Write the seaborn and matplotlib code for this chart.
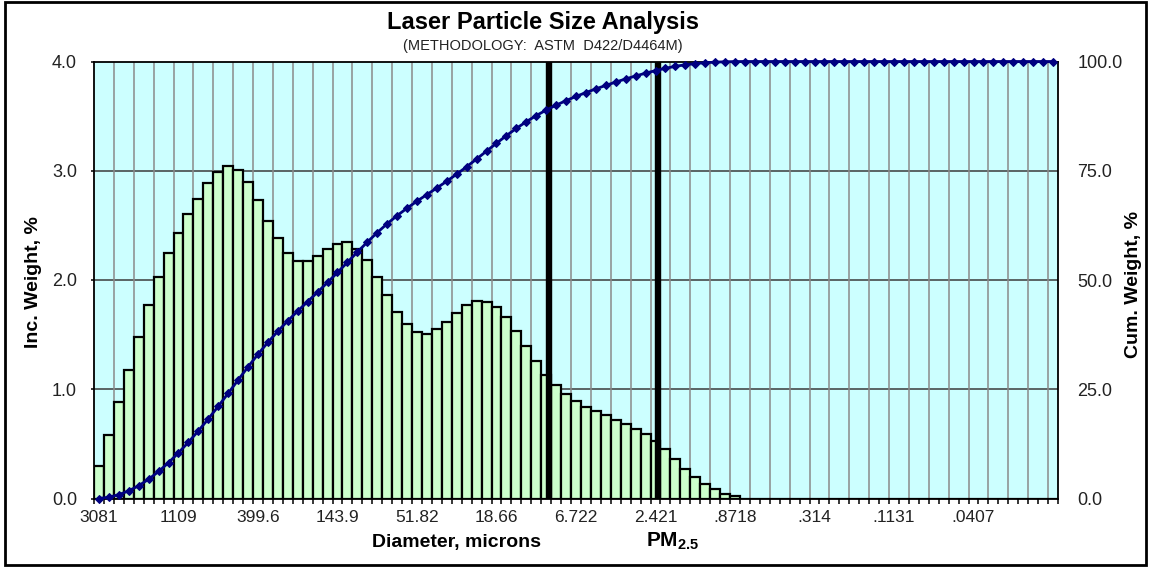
import numpy as np
import pandas as pd
import seaborn as sns
import matplotlib.pyplot as plt
from matplotlib.patches import Rectangle

# Incremental weight (%) per size class, coarsest (3081 µm) to finest
inc_weight = [
    0.30, 0.58, 0.88, 1.18, 1.48, 1.77, 2.03, 2.25, 2.43, 2.60,
    2.74, 2.89, 2.99, 3.04, 3.01, 2.90, 2.73, 2.54, 2.38, 2.25,
    2.17, 2.17, 2.22, 2.28, 2.33, 2.35, 2.28, 2.18, 2.03, 1.86,
    1.71, 1.60, 1.52, 1.51, 1.55, 1.62, 1.70, 1.77, 1.81, 1.80,
    1.75, 1.66, 1.53, 1.40, 1.26, 1.13, 1.04, 0.96, 0.89, 0.84,
    0.80, 0.76, 0.72, 0.68, 0.64, 0.59, 0.53, 0.45, 0.36, 0.27,
    0.20, 0.13, 0.087, 0.04, 0.02,
] + [0.0] * 32

# Diameter labels (microns), one every 8 size classes
diameter_labels = ["3081", "1109", "399.6", "143.9", "51.82", "18.66",
                   "6.722", "2.421", ".8718", ".314", ".1131", ".0407"]
label_step = 8

# PM10 / PM2.5 cut-off markers, in size-class units
pm_cutoffs = [45.3, 56.3]

n_bins = len(inc_weight)
inc = np.array(inc_weight)
cum = 100 * np.concatenate([[0.0], np.cumsum(inc)[:-1]]) / inc.sum()
df = pd.DataFrame({"bin": np.arange(n_bins), "inc": inc, "cum": cum})

plt.rcParams["font.family"] = ["Liberation Sans", "DejaVu Sans"]
plt.rcParams["mathtext.fontset"] = "custom"
plt.rcParams["mathtext.bf"] = "Liberation Sans:bold"
plt.rcParams["mathtext.rm"] = "Liberation Sans"

W, H = 1151, 567
fig = plt.figure(figsize=(W / 100, H / 100), dpi=100)
ax = fig.add_axes([94 / W, 1 - 498.5 / H, 964 / W, 437 / H])
ax.set_facecolor("#CCFFFF")

sns.barplot(data=df, x="bin", y="inc", color="#CCFFCC", saturation=1,
            width=1, edgecolor="black", linewidth=1.6, ax=ax, zorder=2)

ax.set_xlim(-0.5, n_bins - 0.5)
ax.set_ylim(0, 4)

# grid
for y in [1, 2, 3]:
    ax.axhline(y, color="#3a3a3a", lw=1.1, zorder=1)
for x in np.arange(1.5, n_bins - 1, 2):
    ax.axvline(x, color="#8a8a8a", lw=1.1, zorder=1)

# PM cut-off lines
for p in pm_cutoffs:
    ax.axvline(p, color="black", lw=4.6, zorder=3)

# x axis ticks and labels
ax.set_xticks(np.arange(0, n_bins, label_step)[:len(diameter_labels)])
ax.set_xticklabels(diameter_labels)
ax.set_xticks(np.arange(-0.5, n_bins, 1), minor=True)
ax.tick_params(axis="x", which="major", length=0, labelsize=12.5, pad=8,
               labelcolor="#222222")
ax.tick_params(axis="x", which="minor", length=3.6, width=1.1, color="black")
ax.set_xlabel("")

ax.set_yticks([0, 1, 2, 3, 4])
ax.set_yticklabels([f"{v:.1f}" for v in [0, 1, 2, 3, 4]])
ax.tick_params(axis="y", length=2.2, width=1.1, labelsize=13, pad=10,
               labelcolor="#222222")
ax.set_ylabel("")

for s in ax.spines.values():
    s.set_color("black")
    s.set_linewidth(1.3)
    s.set_zorder(4)

# cumulative curve on the secondary axis
ax2 = ax.twinx()
sns.lineplot(data=df, x="bin", y="cum", ax=ax2, color="#000080", lw=2.0,
             marker="D", markersize=3.6, markeredgecolor="#000080",
             clip_on=False, zorder=5)
ax2.set_xlim(-0.5, n_bins - 0.5)
ax2.set_ylim(0, 100)
ax2.set_yticks([0, 25, 50, 75, 100])
ax2.set_yticklabels([f"{v:.1f}" for v in [0, 25, 50, 75, 100]])
ax2.tick_params(axis="y", length=0, labelsize=13, pad=14, labelcolor="#222222")
ax2.set_ylabel("")
for s in ax2.spines.values():
    s.set_visible(False)

# text
fig.text(543 / W, 1 - 22 / H, "Laser Particle Size Analysis", ha="center",
         va="center", fontsize=17, fontweight="bold")
fig.text(543 / W, 1 - 46 / H, "(METHODOLOGY:  ASTM  D422/D4464M)",
         ha="center", va="center", fontsize=10.5, color="#222222")
fig.text(33 / W, 1 - 282 / H, "Inc. Weight, %", rotation=90, ha="center",
         va="center", fontsize=14, fontweight="bold")
fig.text(1133 / W, 1 - 285 / H, "Cum. Weight, %", rotation=90, ha="center",
         va="center", fontsize=14, fontweight="bold")
fig.text(456 / W, 1 - 543 / H, "Diameter, microns", ha="center",
         va="center", fontsize=14, fontweight="bold")
fig.text(673 / W, 1 - 541 / H, r"$\mathbf{PM_{2.5}}$", ha="center",
         va="center", fontsize=15)

fig.patches.append(Rectangle((0.004, 0.004), 0.992, 0.992,
                             transform=fig.transFigure, fill=False,
                             ec="black", lw=2))

fig.savefig("out.png", dpi=100)
